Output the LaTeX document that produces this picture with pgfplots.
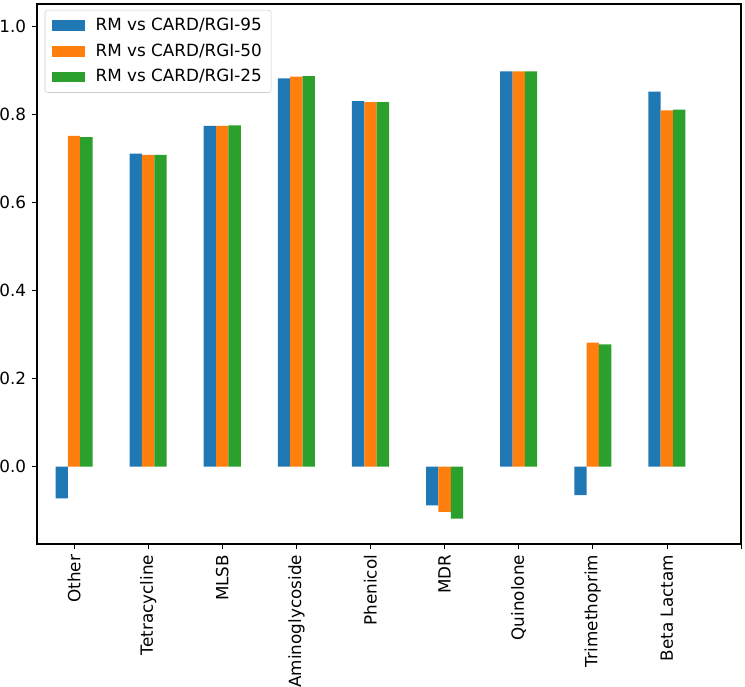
\documentclass[border=0pt]{standalone}
\usepackage{pgfplots}
\pgfplotsset{compat=1.18}
\usepackage{fontspec}
\setmainfont{DejaVu Sans}
\definecolor{tabblue}{HTML}{1F77B4}
\definecolor{taborange}{HTML}{FF7F0E}
\definecolor{tabgreen}{HTML}{2CA02C}
\newcommand{\mpl}{\fontsize{12.6pt}{15pt}\selectfont}
\begin{document}
\mpl
\begin{tikzpicture}
\begin{axis}[
  scale only axis,
  width=528pt, height=405pt,
  xmin=-0.5, xmax=9,
  ymin=-0.176, ymax=1.052,
  clip=false,
  axis lines=box,
  xtick={0,1,2,3,4,5,6,7,8,9},
  xticklabels={Other,Tetracycline,MLSB,Aminoglycoside,Phenicol,MDR,Quinolone,Trimethoprim,Beta Lactam,{}},
  xticklabel style={rotate=90, anchor=east, font=\mpl},
  ytick={0,0.2,0.4,0.6,0.8,1.0},
  yticklabels={0.0,0.2,0.4,0.6,0.8,1.0},
  yticklabel style={font=\mpl},
  /pgf/number format/assume math mode=true,
  tick align=outside,
  xtick pos=bottom, ytick pos=left,
  major tick length=3.75pt,
  tick style={black, line width=0.6pt},
  axis line style={black, line width=0.8pt},
  legend cell align=left,
  legend style={at={(0.011,0.989)}, anchor=north west, draw=black!20, rounded corners=2pt,
    fill=white, fill opacity=0.8, text opacity=1, inner xsep=5pt, inner ysep=4pt,
    row sep=4pt, font=\mpl},
  legend image code/.code={\fill[#1, sharp corners, fill opacity=1] (0pt,-4.1pt) rectangle (24.75pt,4.1pt); \path (31pt,0pt);},
]
\addplot[ybar, bar width=0.1667, bar shift=-0.1667, fill=tabblue, draw=none] coordinates {
(0,-0.072) (1,0.712) (2,0.775) (3,0.883) (4,0.831) (5,-0.088) (6,0.899) (7,-0.065) (8,0.853)};
\addlegendentry{RM vs CARD/RGI-95}
\addplot[ybar, bar width=0.1667, bar shift=0, fill=taborange, draw=none] coordinates {
(0,0.752) (1,0.709) (2,0.775) (3,0.887) (4,0.829) (5,-0.103) (6,0.899) (7,0.282) (8,0.810)};
\addlegendentry{RM vs CARD/RGI-50}
\addplot[ybar, bar width=0.1667, bar shift=0.1667, fill=tabgreen, draw=none] coordinates {
(0,0.749) (1,0.709) (2,0.776) (3,0.888) (4,0.829) (5,-0.118) (6,0.899) (7,0.278) (8,0.812)};
\addlegendentry{RM vs CARD/RGI-25}
\draw[black, line width=1pt] (axis cs:-0.5,1.052) -- (axis cs:9,1.052) -- (axis cs:9,-0.176);
\end{axis}
\pgfresetboundingbox
\path ([shift={(-27.75pt,-106.5pt)}]current axis.south west) rectangle ([shift={(3pt,3pt)}]current axis.north east);
\end{tikzpicture}
\end{document}
